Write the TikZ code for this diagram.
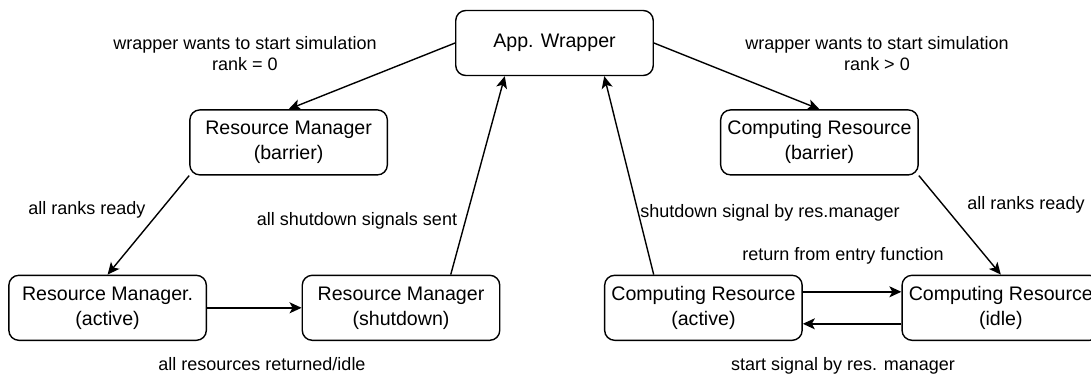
\documentclass[tikz,border=0pt]{standalone}
\usepackage{fontspec}
\setmainfont{Liberation Sans}
\usetikzlibrary{positioning,arrows.meta,calc}

\begin{document}
\begin{tikzpicture}[
    x=0.5pt, y=-0.5pt,
    state/.style={draw, rounded corners=5pt, line width=0.7pt, minimum width=98.75pt, minimum height=32.5pt, inner sep=0pt, align=center, font=\fontsize{9.8}{12.5}\selectfont},
    arrow/.style={-{Stealth[length=6pt, width=5.5pt, inset=1.5pt]}, line width=0.7pt},
    lbl/.style={align=center, inner sep=0pt, font=\fontsize{9}{10.5}\selectfont},
    node distance=16.5pt
]
\useasboundingbox (0,0) rectangle (1091,381);
% States
\node[state] (app) at (554.5,43) {App. Wrapper};
\node[state, below left=16.5pt and 33.5pt of app] (rmb) {Resource Manager\\(barrier)};
\node[state, below right=16.5pt and 33pt of app] (crb) {Computing Resource\\(barrier)};
\node[state, below=49.5pt of rmb, xshift=-90.5pt] (rma) {Resource Manager.\\(active)};
\node[state, right=47.25pt of rma] (rms) {Resource Manager\\(shutdown)};
\node[state, right=51.75pt of rms] (cra) {Computing Resource\\(active)};
\node[state, right=49.25pt of cra] (cri) {Computing Resource\\(idle)};

% Labels
\node[lbl] (startzero) at (245,53.5) {wrapper wants to start simulation\\rank = 0};
\node[lbl] (startmore) at (877,53.5) {wrapper wants to start simulation\\rank > 0};
\node[lbl] (readyrm) at (87,210) {all ranks ready};
\node[lbl] (sentrm) at (357,221) {all shutdown signals sent};
\node[lbl] (idlerm) at (262,364) {all resources returned/idle};
\node[lbl] (stopcr) at (770,213) {shutdown signal by res.manager};
\node[lbl] (readycr) at (1026,205) {all ranks ready};
\node[lbl] (returncr) at (843,256) {return from entry function};
\node[lbl] (startcr) at (843,366) {start signal by res. manager};

% Arrows
\draw[arrow] (app.west) -- (rmb.north);
\draw[arrow] (app.east) -- (crb.north);
\draw[arrow] (rmb.south west) -- (rma.north);
\draw[arrow] (rma) -- (rms);
\draw[arrow] ($(rms.north)!0.5!(rms.north east)$) -- ($(app.south west)!0.5!(app.south)$);
\draw[arrow] ($(cra.north west)!0.5!(cra.north)$) -- ($(app.south)!0.5!(app.south east)$);
\draw[arrow] (crb.south east) -- (cri.north);
\draw[arrow] ([yshift=8pt]cra.east) -- ([yshift=8pt]cri.west);
\draw[arrow] ([yshift=-8pt]cri.west) -- ([yshift=-8pt]cra.east);
\end{tikzpicture}
\end{document}
